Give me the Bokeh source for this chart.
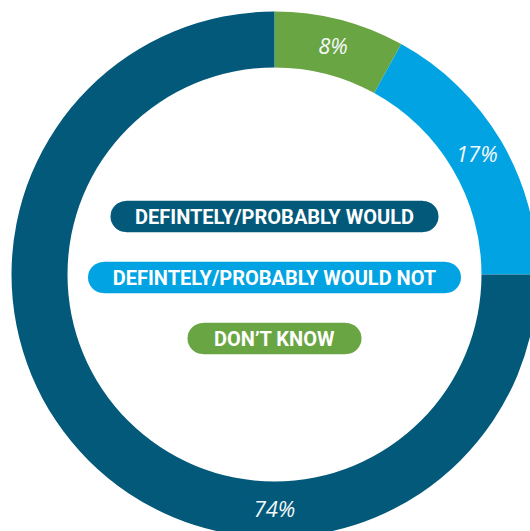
import math
from bokeh.plotting import figure
from bokeh.models import Range1d, ColumnDataSource
from bokeh.core.properties import value
from bokeh.embed import file_html
from bokeh.resources import INLINE

# ---- data ----
categories = ["DON\u2019T KNOW", "DEFINTELY/PROBABLY WOULD NOT", "DEFINTELY/PROBABLY WOULD"]
percents = [8, 17, 74]
colors = ["#6AA543", "#02A3E2", "#03597A"]
pct_labels = ["8%", "17%", "74%"]
legend_order = ["DEFINTELY/PROBABLY WOULD", "DEFINTELY/PROBABLY WOULD NOT", "DON\u2019T KNOW"]

# ---- layout (pixels) ----
W, H = 530, 531
CX, CY = 274, 274           # donut centre, from figure top-left
R_OUT, R_IN = 263, 207
cx, cy = CX, H - CY

p = figure(width=W, height=H, output_backend="svg", toolbar_location=None,
           x_range=Range1d(0, W), y_range=Range1d(0, H), min_border=0,
           background_fill_color="white", border_fill_color="white", outline_line_color=None)
p.axis.visible = False
p.grid.visible = False

# slices start at 12 o'clock, run clockwise; the last slice closes the ring
starts, ends, mids = [], [], []
a0 = math.pi / 2
a = a0
for i, v in enumerate(percents):
    span = v / 100 * 2 * math.pi
    e = a - span if i < len(percents) - 1 else a0 - 2 * math.pi
    starts.append(a)
    ends.append(e)
    mids.append((a + e) / 2)
    a = e

src = ColumnDataSource(dict(start=starts, end=ends, color=colors))
p.annular_wedge(x=cx, y=cy, inner_radius=R_IN, outer_radius=R_OUT, start_angle="start",
                end_angle="end", direction="clock", color="color", line_color=None, source=src)

# percentage labels (large slice label sits at the bottom of the ring)
label_angles = [mids[0], mids[1], -math.pi / 2]
r_lab = (R_OUT + R_IN) / 2
lx = [cx + r_lab * math.cos(t) for t in label_angles]
ly = [cy + r_lab * math.sin(t) + 2 for t in label_angles]
p.text(x=lx, y=ly, text=pct_labels, text_align="center", text_baseline="middle",
       text_color="#F4F8FA", text_font=value("Open Sans"), text_font_style="italic",
       text_font_size="22px")

# legend pills
color_of = dict(zip(categories, colors))
pill_w = [328, 373, 174]
pill_y = [216, 277, 338]
pill_h = 31
r = pill_h / 2
for name, w, py in zip(legend_order, pill_w, pill_y):
    yc = H - py
    c = color_of[name]
    p.quad(left=cx - w / 2 + r, right=cx + w / 2 - r, bottom=yc - r, top=yc + r,
           color=c, line_color=c, line_width=0.5)
    p.circle(x=[cx - w / 2 + r, cx + w / 2 - r], y=[yc, yc], radius=r, color=c, line_color=None)
    p.text(x=[cx], y=[yc], text=[name], text_align="center", text_baseline="middle",
           text_color="white", text_font=value("Roboto"),
           text_font_style="bold", text_font_size="20px")

open("out.html", "w").write(file_html(p, INLINE))
